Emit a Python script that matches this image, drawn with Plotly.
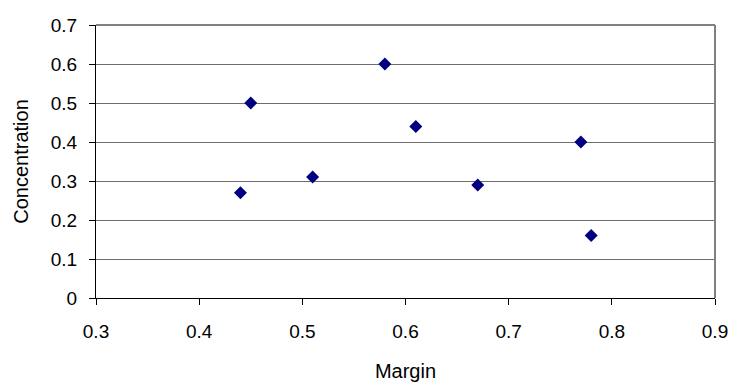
import plotly.graph_objects as go

margin = [0.45, 0.44, 0.51, 0.58, 0.61, 0.67, 0.77, 0.78]
concentration = [0.50, 0.27, 0.31, 0.60, 0.44, 0.29, 0.40, 0.16]

x_title = "Margin"
y_title = "Concentration"

fig = go.Figure()
fig.add_trace(go.Scatter(
    x=margin, y=concentration, mode="markers",
    marker=dict(symbol="diamond", size=10, color="#000080", line=dict(width=0)),
    showlegend=False,
))

font = dict(family="Liberation Sans, Arial, sans-serif", size=19, color="black")
tfont = dict(family="Liberation Sans, Arial, sans-serif", size=20, color="black")

fig.update_layout(
    width=733, height=383,
    margin=dict(l=96, r=18, t=25, b=85),
    paper_bgcolor="white", plot_bgcolor="white",
    font=font,
    xaxis=dict(
        range=[0.3, 0.9], dtick=0.1, tick0=0.3, showgrid=False, zeroline=False,
        showline=True, linecolor="black", linewidth=1, automargin=False,
        ticks="outside", ticklen=6, tickcolor="black", tickformat=".1f",
        ticklabelstandoff=10, tickfont=font,
        title=dict(text=x_title, standoff=23, font=tfont),
    ),
    yaxis=dict(
        range=[0, 0.7], dtick=0.1, showgrid=True, gridcolor="#6e6e6e", gridwidth=1,
        zeroline=False, showline=True, linecolor="black", linewidth=1, automargin=False,
        ticks="outside", ticklen=6, tickcolor="black",
        ticklabelstandoff=8, tickfont=font,
        title=dict(text=y_title, standoff=16, font=tfont),
    ),
    shapes=[
        dict(type="line", xref="paper", yref="paper", x0=0, x1=1, y0=1, y1=1,
             line=dict(color="#808080", width=2)),
        dict(type="line", xref="paper", yref="paper", x0=1, x1=1, y0=0, y1=1,
             line=dict(color="#808080", width=2)),
    ],
)

fig.write_html("out.html")
